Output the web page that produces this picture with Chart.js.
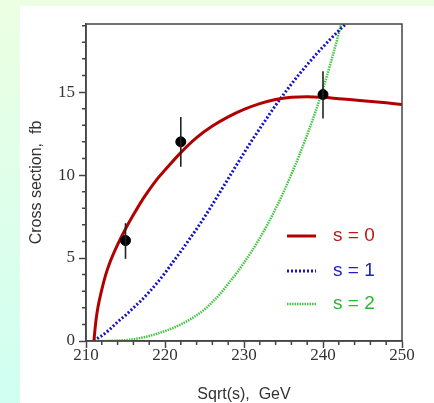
<!DOCTYPE html>
<html>
<head>
<meta charset="utf-8">
<script src="https://cdn.jsdelivr.net/npm/chart.js@4.4.0/dist/chart.umd.min.js"></script>
<style>
html, body { margin: 0; padding: 0; }
body { width: 434px; height: 403px; position: relative; overflow: hidden;
  background: linear-gradient(to bottom, #ecffe2, #d0fff2); }
#panel { position: absolute; left: 20px; top: 6px; right: 0; bottom: 0; background: #fff; }
#wrap { position: absolute; left: 0; top: 0; width: 434px; height: 403px; }
</style>
</head>
<body>
<div id="panel"></div>
<div id="wrap"><canvas id="graph"></canvas></div>
<script>
// curvas (sqrt(s) en GeV, seccion eficaz en fb)
const xS0 = [211, 211.25, 211.5, 212, 212.5, 213, 214, 215, 216, 217, 218, 219, 220, 222, 224, 226, 228, 230, 232, 234, 236, 238, 240, 242, 245, 248, 250];
const yS0 = [0, 1.2, 2.0, 3.1, 4.0, 4.7, 5.8, 6.75, 7.6, 8.4, 9.1, 9.75, 10.3, 11.35, 12.25, 12.95, 13.5, 13.95, 14.3, 14.55, 14.68, 14.72, 14.68, 14.6, 14.48, 14.35, 14.25];

const xS1 = [211, 211.7, 212, 213, 214, 215, 216, 217, 218, 219, 220, 221, 222, 223, 224, 225, 226, 227, 228, 229, 230, 231, 232, 233, 234, 235, 236, 237, 238, 239, 240, 241, 242, 243, 244];
const yS1 = [0, 0.24, 0.32, 0.7, 1.15, 1.55, 2.0, 2.45, 2.95, 3.5, 4.1, 4.75, 5.4, 6.07, 6.75, 7.47, 8.22, 9.0, 9.78, 10.56, 11.33, 12.08, 12.8, 13.5, 14.2, 14.85, 15.48, 16.08, 16.65, 17.2, 17.72, 18.22, 18.7, 19.15, 19.6];

const xS2 = [211, 213, 215, 216, 217, 218, 219, 220, 221, 222, 223, 224, 225, 226, 227, 228, 229, 230, 231, 232, 233, 234, 235, 236, 237, 238, 239, 240, 241, 242, 242.6];
const yS2 = [0, 0.01, 0.05, 0.11, 0.19, 0.3, 0.44, 0.6, 0.78, 1.0, 1.25, 1.55, 1.9, 2.35, 2.85, 3.45, 4.05, 4.72, 5.43, 6.2, 7.05, 7.97, 8.97, 10.05, 11.2, 12.43, 13.75, 15.2, 16.8, 18.55, 19.7];

// puntos medidos con barras de error
const xDatos = [215, 222, 240];
const yDatos = [6.05, 12.0, 14.85];
const yBajo = [4.95, 10.5, 13.4];
const yAlto = [7.1, 13.5, 16.25];

const etiquetas = ['s = 0', 's = 1', 's = 2'];
const colores = ['#b20000', '#1414c4', '#44c444'];
const coloresTexto = ['#c01818', '#2020c0', '#2eb42e'];

const aPuntos = (xs, ys) => xs.map((x, i) => ({ x: x, y: ys[i] }));

const serif = 'Liberation Serif';
const sans = 'Liberation Sans';

// barras de error, ticks menores, marco y leyenda
const extras = {
  id: 'extras',
  afterDatasetsDraw(chart) {
    const ctx = chart.ctx;
    const sx = chart.scales.x, sy = chart.scales.y;
    ctx.save();
    ctx.strokeStyle = '#222';
    ctx.lineWidth = 1.6;
    xDatos.forEach((x, i) => {
      const px = sx.getPixelForValue(x);
      ctx.beginPath();
      ctx.moveTo(px, sy.getPixelForValue(yBajo[i]));
      ctx.lineTo(px, sy.getPixelForValue(yAlto[i]));
      ctx.stroke();
    });
    ctx.restore();
  },
  afterDraw(chart) {
    const ctx = chart.ctx;
    const a = chart.chartArea;
    const sx = chart.scales.x, sy = chart.scales.y;
    ctx.save();
    ctx.strokeStyle = '#444';
    ctx.lineWidth = 1.5;
    ctx.beginPath();
    for (let v = 212; v < 250; v += 2) {
      if (v % 10 === 0) continue;
      const px = sx.getPixelForValue(v);
      ctx.moveTo(px, a.bottom);
      ctx.lineTo(px, a.bottom + 4);
    }
    for (let v = 1; v <= 19; v++) {
      if (v % 5 === 0) continue;
      const py = sy.getPixelForValue(v);
      ctx.moveTo(a.left, py);
      ctx.lineTo(a.left - 4, py);
    }
    ctx.stroke();
    ctx.strokeRect(a.left, a.top, a.right - a.left, a.bottom - a.top);

    // leyenda
    const lx = a.left + 201, tx = a.left + 247;
    const filas = [a.top + 212, a.top + 247, a.top + 280];
    const rayas = [[], [2, 2], [1.5, 1]];
    const grosor = [3, 3, 2.5];
    ctx.font = '19px ' + sans;
    ctx.textBaseline = 'middle';
    filas.forEach((y, i) => {
      ctx.strokeStyle = colores[i];
      ctx.lineWidth = grosor[i];
      ctx.setLineDash(rayas[i]);
      ctx.beginPath();
      ctx.moveTo(lx, y);
      ctx.lineTo(lx + 29, y);
      ctx.stroke();
      ctx.setLineDash([]);
      ctx.fillStyle = coloresTexto[i];
      ctx.fillText(etiquetas[i], tx, y);
    });
    ctx.restore();
  }
};

const curva = (xs, ys, i, ancho, raya) => ({
  label: etiquetas[i],
  data: aPuntos(xs, ys),
  showLine: true,
  borderColor: colores[i],
  borderWidth: ancho,
  borderDash: raya,
  pointRadius: 0,
  cubicInterpolationMode: 'monotone',
  clip: 0,
  order: 2
});

new Chart(document.getElementById('graph'), {
  type: 'scatter',
  data: {
    datasets: [
      curva(xS0, yS0, 0, 3, []),
      curva(xS1, yS1, 1, 3, [2, 2]),
      curva(xS2, yS2, 2, 2.5, [1.5, 1]),
      {
        label: 'datos',
        data: aPuntos(xDatos, yDatos),
        pointRadius: 5,
        pointBackgroundColor: '#000',
        pointBorderColor: '#000',
        order: 1
      }
    ]
  },
  options: {
    responsive: true,
    maintainAspectRatio: false,
    animation: false,
    layout: { padding: { top: 24, right: 32, left: 0, bottom: 0 } },
    plugins: { legend: { display: false }, tooltip: { enabled: false } },
    scales: {
      x: {
        type: 'linear', min: 210, max: 250,
        afterBuildTicks: (ax) => { ax.ticks = ax.ticks.filter(t => t.value % 10 === 0); },
        afterFit: (ax) => { ax.height = 62; },
        ticks: { stepSize: 10, color: '#333', font: { family: serif, size: 17 }, padding: -3, maxRotation: 0 },
        grid: { drawOnChartArea: false, tickLength: 7, tickColor: '#444', tickWidth: 1.5 },
        border: { color: '#444', width: 1.5 },
        title: { display: true, text: 'Sqrt(s),  GeV', color: '#333', font: { family: sans, size: 16, lineHeight: 1 }, padding: 0 }
      },
      y: {
        type: 'linear', min: 0, max: 19.1,
        afterBuildTicks: (ax) => { ax.ticks = ax.ticks.filter(t => t.value % 5 === 0); },
        afterFit: (ax) => { ax.width = 86; },
        ticks: { stepSize: 5, color: '#333', font: { family: serif, size: 17 }, padding: 4 },
        grid: { drawOnChartArea: false, tickLength: 7, tickColor: '#444', tickWidth: 1.5 },
        border: { color: '#444', width: 1.5 },
        title: { display: true, text: 'Cross section,  fb', color: '#333', font: { family: sans, size: 16, lineHeight: 1 }, padding: { top: 29 } }
      }
    }
  },
  plugins: [extras]
});
</script>
</body>
</html>
